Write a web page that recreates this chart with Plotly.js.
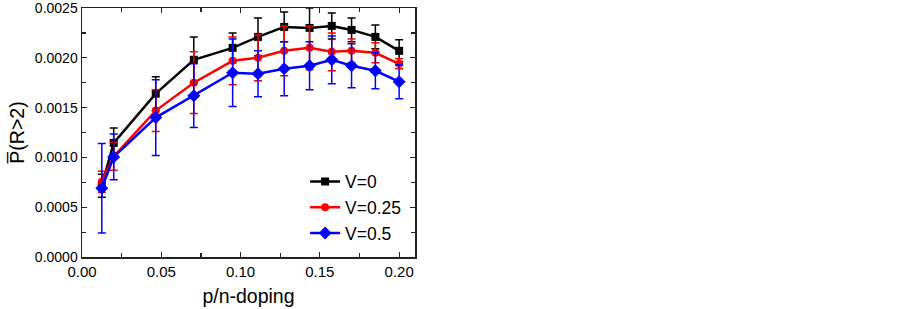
<!DOCTYPE html>
<html>
<head>
<meta charset="utf-8">
<script src="https://cdn.plot.ly/plotly-3.0.1.min.js"></script>
<style>html,body{margin:0;padding:0;background:#fff;}#chart{width:903px;height:309px;}</style>
</head>
<body>
<div id="chart"></div>
<script>
const doping = [0.0125, 0.02, 0.0465, 0.0705, 0.095, 0.111, 0.1275, 0.1435, 0.1575, 0.17, 0.185, 0.2];

const seriesNames = ["V=0", "V=0.25", "V=0.5"];

const pV0 = [0.000715, 0.001146, 0.00164, 0.00198, 0.0021, 0.00221, 0.00231, 0.0023, 0.00232, 0.00228, 0.00221, 0.00207];
const errV0 = [0.000115, 0.00015, 0.00017, 0.00023, 0.00015, 0.00019, 0.00015, 0.0002, 0.00013, 0.00012, 0.00012, 0.00011];

const pV025 = [0.000755, 0.00101, 0.00147, 0.00175, 0.00197, 0.002, 0.00207, 0.0021, 0.00206, 0.00207, 0.00205, 0.00194];
const errV025 = [0.000105, 0.00014, 0.00021, 0.00031, 0.00024, 0.00023, 0.00025, 0.00022, 0.00019, 0.00012, 0.0001, 0.00005];

const pV05 = [0.00069, 0.001005, 0.0014, 0.00162, 0.00185, 0.00184, 0.00189, 0.00192, 0.00198, 0.00192, 0.00187, 0.00176];
const errV05 = [0.00045, 0.00023, 0.00038, 0.00032, 0.00034, 0.00023, 0.00027, 0.00024, 0.00024, 0.00022, 0.00018, 0.00017];

const yTickVals = [0, 0.0005, 0.001, 0.0015, 0.002, 0.0025];
const yTickText = ["0.0000", "0.0005", "0.0010", "0.0015", "0.0020", "0.0025"];

const FONT = "Arial, 'Liberation Sans', sans-serif";

function mk(name, y, err, color, symbol, size) {
  return {
    type: "scatter", mode: "lines+markers", name: name,
    x: doping, y: y,
    line: {color: color, width: 2.5},
    marker: {color: color, symbol: symbol, size: size},
    error_y: {type: "data", array: err, visible: true, color: color, thickness: 1.5, width: 4}
  };
}

const data = [
  mk(seriesNames[0], pV0, errV0, "#000000", "square", 8),
  mk(seriesNames[1], pV025, errV025, "#ff0000", "circle", 8),
  mk(seriesNames[2], pV05, errV05, "#0000ff", "diamond", 10)
];

const axisCommon = {
  showline: true, linecolor: "#222", linewidth: 1.5, mirror: "ticks",
  ticks: "inside", ticklen: 5, tickwidth: 1.2, tickcolor: "#222",
  showgrid: false, zeroline: false, ticklabeloverflow: "allow"
};

const layout = {
  width: 903, height: 309,
  margin: {l: 82, r: 488, t: 8, b: 52},
  paper_bgcolor: "#fff", plot_bgcolor: "#fff",
  font: {family: FONT, color: "#000"},
  showlegend: true,
  legend: {x: 0.67, y: 0.375, xanchor: "left", yanchor: "top", bgcolor: "rgba(0,0,0,0)",
           font: {family: FONT, size: 17.5, color: "#000"}, tracegroupgap: 0},
  xaxis: Object.assign({}, axisCommon, {
    range: [0, 0.21], dtick: 0.05, tick0: 0, tickformat: ".2f",
    tickfont: {family: FONT, size: 15, color: "#000"},
    minor: {dtick: 0.025, ticks: "inside", ticklen: 4, tickwidth: 1.2, tickcolor: "#222"},
    title: {text: "p/n-doping", font: {family: FONT, size: 19.5, color: "#000"}, standoff: 11}
  }),
  yaxis: Object.assign({}, axisCommon, {
    range: [0, 0.0025], tickmode: "array", tickvals: yTickVals, ticktext: yTickText,
    tickfont: {family: FONT, size: 14, color: "#000"},
    minor: {dtick: 0.00025, tick0: 0, ticks: "inside", ticklen: 4, tickwidth: 1.2, tickcolor: "#222"},
    title: {text: "P\u0305(R>2)", font: {family: FONT, size: 19.5, color: "#000"}, standoff: 5}
  })
};

Plotly.newPlot("chart", data, layout, {staticPlot: true, displayModeBar: false});
</script>
</body>
</html>
